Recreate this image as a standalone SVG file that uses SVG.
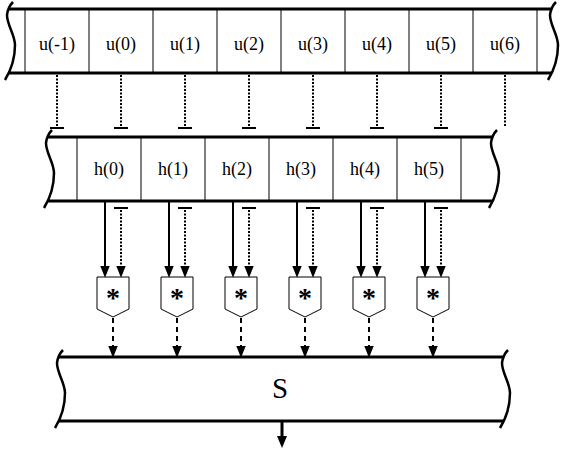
<svg xmlns="http://www.w3.org/2000/svg" xmlns:xlink="http://www.w3.org/1999/xlink" width="567" height="452" viewBox="0 0 567 452">
<style>
.band{stroke:#000;stroke-width:3;fill:none}
.div{stroke:#000;stroke-width:1}
.wave{stroke:#000;stroke-width:2.5;fill:none}
.lbl{font-family:"Liberation Serif","Times New Roman",serif;font-size:18px;text-anchor:middle;fill:#000}
.solid{stroke:#000;stroke-width:2;fill:none}
.dot{stroke:#000;stroke-width:2;stroke-dasharray:2,1.5;fill:none}
.dash{stroke:#000;stroke-width:2;stroke-dasharray:5,4;fill:none}
.bar{stroke:#000;stroke-width:2}
.mul{stroke:#000;stroke-width:1;fill:#fff}
.ast{font-family:"Liberation Serif","Times New Roman",serif;font-size:28px;font-weight:bold;text-anchor:middle;fill:#000}
</style>
<defs>
<path id="wave" d="M5,-7 Q0,-2 -1,6 C-1,16 7,26 7,36 C7,48 5,58 -3,71"/>
<marker id="ah" markerUnits="userSpaceOnUse" markerWidth="12" markerHeight="10" refX="6" refY="4" orient="auto" viewBox="0 0 10 8">
<path d="M0,0 L10,4 L0,8 z" fill="#000"/>
</marker>
<marker id="ahbig" markerUnits="userSpaceOnUse" markerWidth="12" markerHeight="12" refX="6" refY="5" orient="auto" viewBox="0 0 12 10">
<path d="M0,0 L12,5 L0,10 z" fill="#000"/>
</marker>
</defs>

<g id="band-u">
<line class="band" x1="8" y1="9" x2="551" y2="9"/>
<line class="band" x1="8" y1="73" x2="551" y2="73"/>
<use href="#wave" class="wave" x="8" y="9"/>
<use href="#wave" class="wave" x="551" y="9"/>
<line class="div" x1="25" y1="9" x2="25" y2="73"/>
<line class="div" x1="89" y1="9" x2="89" y2="73"/>
<line class="div" x1="153" y1="9" x2="153" y2="73"/>
<line class="div" x1="217" y1="9" x2="217" y2="73"/>
<line class="div" x1="281" y1="9" x2="281" y2="73"/>
<line class="div" x1="345" y1="9" x2="345" y2="73"/>
<line class="div" x1="409" y1="9" x2="409" y2="73"/>
<line class="div" x1="473" y1="9" x2="473" y2="73"/>
<line class="div" x1="537" y1="9" x2="537" y2="73"/>
</g>
<g id="u-1"><text class="lbl" x="57" y="50">u(-1)</text></g>
<g id="u0"><text class="lbl" x="121" y="50">u(0)</text></g>
<g id="u1"><text class="lbl" x="185" y="50">u(1)</text></g>
<g id="u2"><text class="lbl" x="249" y="50">u(2)</text></g>
<g id="u3"><text class="lbl" x="313" y="50">u(3)</text></g>
<g id="u4"><text class="lbl" x="377" y="50">u(4)</text></g>
<g id="u5"><text class="lbl" x="441" y="50">u(5)</text></g>
<g id="u6"><text class="lbl" x="505" y="50">u(6)</text></g>

<g id="band-h">
<line class="band" x1="47" y1="137" x2="492" y2="137"/>
<line class="band" x1="47" y1="201" x2="492" y2="201"/>
<use href="#wave" class="wave" x="47" y="137"/>
<use href="#wave" class="wave" x="492" y="137"/>
<line class="div" x1="77" y1="137" x2="77" y2="201"/>
<line class="div" x1="141" y1="137" x2="141" y2="201"/>
<line class="div" x1="205" y1="137" x2="205" y2="201"/>
<line class="div" x1="269" y1="137" x2="269" y2="201"/>
<line class="div" x1="333" y1="137" x2="333" y2="201"/>
<line class="div" x1="397" y1="137" x2="397" y2="201"/>
<line class="div" x1="461" y1="137" x2="461" y2="201"/>
</g>
<g id="h0"><text class="lbl" x="109" y="175">h(0)</text></g>
<g id="h1"><text class="lbl" x="173" y="175">h(1)</text></g>
<g id="h2"><text class="lbl" x="237" y="175">h(2)</text></g>
<g id="h3"><text class="lbl" x="301" y="175">h(3)</text></g>
<g id="h4"><text class="lbl" x="365" y="175">h(4)</text></g>
<g id="h5"><text class="lbl" x="429" y="175">h(5)</text></g>

<g id="mul0"><path class="mul" d="M97,277 H129 V309 L113,317 L97,309 Z"/><text class="ast" x="113" y="307">*</text></g>
<g id="mul1"><path class="mul" d="M161,277 H193 V309 L177,317 L161,309 Z"/><text class="ast" x="177" y="307">*</text></g>
<g id="mul2"><path class="mul" d="M225,277 H257 V309 L241,317 L225,309 Z"/><text class="ast" x="241" y="307">*</text></g>
<g id="mul3"><path class="mul" d="M289,277 H321 V309 L305,317 L289,309 Z"/><text class="ast" x="305" y="307">*</text></g>
<g id="mul4"><path class="mul" d="M353,277 H385 V309 L369,317 L353,309 Z"/><text class="ast" x="369" y="307">*</text></g>
<g id="mul5"><path class="mul" d="M417,277 H449 V309 L433,317 L417,309 Z"/><text class="ast" x="433" y="307">*</text></g>

<g id="band-s">
<line class="band" x1="58" y1="357" x2="503" y2="357"/>
<line class="band" x1="58" y1="421" x2="503" y2="421"/>
<use href="#wave" class="wave" x="58" y="357"/>
<use href="#wave" class="wave" x="503" y="357"/>
<text x="280" y="398" font-family="'Liberation Serif','Times New Roman',serif" font-size="29" text-anchor="middle">S</text>
</g>

<g id="connectors">
<path class="dot" d="M57,75 V127"/><line class="bar" x1="50" y1="128" x2="64" y2="128"/>
<path class="dot" d="M121,75 V127"/><line class="bar" x1="114" y1="128" x2="128" y2="128"/>
<path class="dot" d="M185,75 V127"/><line class="bar" x1="178" y1="128" x2="192" y2="128"/>
<path class="dot" d="M249,75 V127"/><line class="bar" x1="242" y1="128" x2="256" y2="128"/>
<path class="dot" d="M313,75 V127"/><line class="bar" x1="306" y1="128" x2="320" y2="128"/>
<path class="dot" d="M377,75 V127"/><line class="bar" x1="370" y1="128" x2="384" y2="128"/>
<path class="dot" d="M441,75 V127"/><line class="bar" x1="434" y1="128" x2="448" y2="128"/>
<path class="dot" d="M505,75 V127"/>
<path class="solid" d="M105,202 V273" marker-end="url(#ah)"/>
<path class="solid" d="M169,202 V273" marker-end="url(#ah)"/>
<path class="solid" d="M233,202 V273" marker-end="url(#ah)"/>
<path class="solid" d="M297,202 V273" marker-end="url(#ah)"/>
<path class="solid" d="M361,202 V273" marker-end="url(#ah)"/>
<path class="solid" d="M425,202 V273" marker-end="url(#ah)"/>
<line class="bar" x1="114" y1="208" x2="128" y2="208"/><path class="dot" d="M121,210 V273" marker-end="url(#ah)"/>
<line class="bar" x1="178" y1="208" x2="192" y2="208"/><path class="dot" d="M185,210 V273" marker-end="url(#ah)"/>
<line class="bar" x1="242" y1="208" x2="256" y2="208"/><path class="dot" d="M249,210 V273" marker-end="url(#ah)"/>
<line class="bar" x1="306" y1="208" x2="320" y2="208"/><path class="dot" d="M313,210 V273" marker-end="url(#ah)"/>
<line class="bar" x1="370" y1="208" x2="384" y2="208"/><path class="dot" d="M377,210 V273" marker-end="url(#ah)"/>
<line class="bar" x1="434" y1="208" x2="448" y2="208"/><path class="dot" d="M441,210 V273" marker-end="url(#ah)"/>
<path class="dash" d="M113,318 V353" marker-end="url(#ah)"/>
<path class="dash" d="M177,318 V353" marker-end="url(#ah)"/>
<path class="dash" d="M241,318 V353" marker-end="url(#ah)"/>
<path class="dash" d="M305,318 V353" marker-end="url(#ah)"/>
<path class="dash" d="M369,318 V353" marker-end="url(#ah)"/>
<path class="dash" d="M433,318 V353" marker-end="url(#ah)"/>
<path d="M282,422 V442" stroke="#000" stroke-width="3" fill="none" marker-end="url(#ahbig)"/>
</g>
</svg>
